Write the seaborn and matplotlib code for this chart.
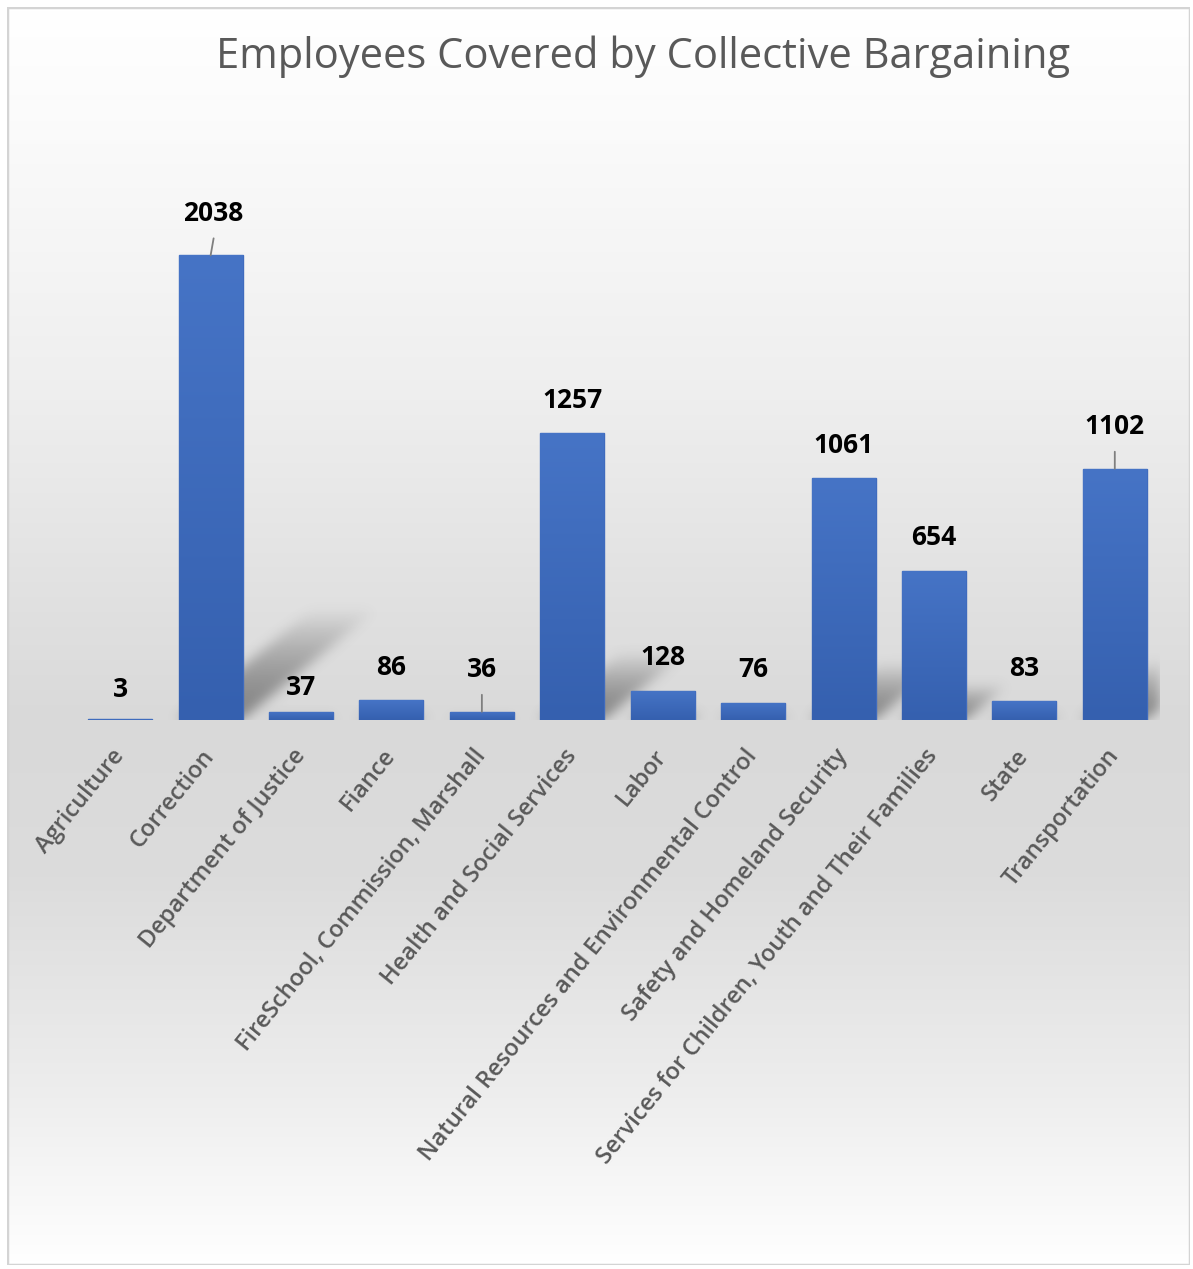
import numpy as np
import pandas as pd
import matplotlib
matplotlib.use("Agg")
import matplotlib.pyplot as plt
from matplotlib import font_manager
from matplotlib.colors import LinearSegmentedColormap
from matplotlib.patches import Rectangle
import seaborn as sns

# ---- data -------------------------------------------------------------
departments = [
    "Agriculture",
    "Correction",
    "Department of Justice",
    "Fiance",
    "FireSchool, Commission, Marshall",
    "Health and Social Services",
    "Labor",
    "Natural Resources and Environmental Control",
    "Safety and Homeland Security",
    "Services for Children, Youth and Their Families",
    "State",
    "Transportation",
]
employees = [3, 2038, 37, 86, 36, 1257, 128, 76, 1061, 654, 83, 1102]
# labels pulled away from their bars and joined with a leader line
leader_labels = ["Correction", "FireSchool, Commission, Marshall", "Transportation"]
chart_title = "Employees Covered by Collective Bargaining"

# ---- fonts ------------------------------------------------------------
sns.set_theme(style="white")
installed = {f.name for f in font_manager.fontManager.ttflist}
body_font = ["Open Sans", "DejaVu Sans"]
if "Liberation Sans Narrow" in installed:
    title_font, title_size = ["Liberation Sans Narrow", "DejaVu Sans"], 36
else:
    title_font, title_size = ["Open Sans", "DejaVu Sans"], 30
plt.rcParams["font.family"] = body_font

W, H = 1193, 1269
fig = plt.figure(figsize=(W / 100, H / 100), dpi=100)
fig.patch.set_facecolor("white")

# ---- chart area background: soft vertical grey gradient + frame ------
frame_top, frame_bot = 7, 1265
bg = fig.add_axes([7 / W, 1 - frame_bot / H, (1190 - 7) / W, (frame_bot - frame_top) / H])
bg.set_zorder(0)
stops_px = [7, 120, 400, 720, 880, 1100, 1265]
stops_col = ["#ffffff", "#fbfbfb", "#eeeeee", "#d9d9d9", "#dcdcdc", "#eeeeee", "#ffffff"]
bg_cmap = LinearSegmentedColormap.from_list(
    "bg", [((p - frame_top) / (frame_bot - frame_top), c) for p, c in zip(stops_px, stops_col)]
)
bg.imshow(np.linspace(0, 1, 512).reshape(-1, 1), cmap=bg_cmap, aspect="auto",
          extent=[0, 1, 0, 1], origin="upper")
bg.add_patch(Rectangle((0, 0), 1, 1, transform=bg.transAxes, fill=False,
                       edgecolor="#d4d4d4", lw=2.5))
bg.set_axis_off()

# ---- plot area --------------------------------------------------------
ax_px_w, ax_px_h = 1085, 570
ymax = 2500
ax = fig.add_axes([75 / W, 1 - 720 / H, ax_px_w / W, ax_px_h / H])
ax.set_zorder(1)
ax.patch.set_alpha(0)

df = pd.DataFrame({"department": departments, "employees": employees})
bar_width = 0.707
sns.barplot(data=df, x="department", y="employees", color="#4472C4",
            saturation=1, width=bar_width, edgecolor="#3F6BBE", linewidth=1.0, ax=ax)

# perspective drop shadows cast up and to the right of each bar
n = len(departments)
unit_px = ax_px_w / n
shadow = np.zeros((ax_px_h, ax_px_w))
for p in ax.patches:
    left = (p.get_x() + 0.5) * unit_px
    right = left + p.get_width() * unit_px
    hpx = p.get_height() * ax_px_h / ymax
    sh = 0.24 * hpx
    for r in range(int(sh)):
        off = 1.22 * r
        a = 0.6 * (1 - (r / sh) ** 1.6)
        c0, c1 = int(max(left + off, 0)), int(min(right + off, ax_px_w))
        if c1 > c0:
            shadow[r, c0:c1] = np.maximum(shadow[r, c0:c1], a)


def smooth(arr, sigma):
    k = np.arange(-3 * sigma, 3 * sigma + 1)
    kern = np.exp(-0.5 * (k / sigma) ** 2)
    kern /= kern.sum()
    arr = np.apply_along_axis(lambda v: np.convolve(v, kern, mode="same"), 0, arr)
    return np.apply_along_axis(lambda v: np.convolve(v, kern, mode="same"), 1, arr)


shadow = smooth(shadow, 6)
rgba = np.zeros((ax_px_h, ax_px_w, 4))
rgba[..., :3] = 0.3
rgba[..., 3] = shadow
ax.imshow(rgba, origin="lower", aspect="auto", extent=[-0.5, n - 0.5, 0, ymax],
          zorder=0.5, interpolation="bilinear")

# vertical gradient fill on each bar
bar_cmap = LinearSegmentedColormap.from_list("bar", ["#3560AF", "#4674C6"])
grad = np.linspace(0, 1, 256).reshape(-1, 1)
for p in ax.patches:
    x0, w, h = p.get_x(), p.get_width(), p.get_height()
    im = ax.imshow(grad, cmap=bar_cmap, aspect="auto", origin="lower",
                   extent=[x0, x0 + w, 0, max(h, 1e-6)], zorder=p.get_zorder() + 0.1)
    im.set_clip_path(p)

ax.set_xlim(-0.5, n - 0.5)
ax.set_ylim(0, ymax)

# ---- value labels -----------------------------------------------------
label_offset = {"Department of Justice": 24, "Agriculture": 30}
for i, (name, val) in enumerate(zip(departments, employees)):
    if name in leader_labels:
        dx = 3 if name == "Correction" else 0
        ax.annotate("", xy=(i, val), xytext=(dx, 17), textcoords="offset pixels",
                    arrowprops=dict(arrowstyle="-", color="#7f7f7f", lw=1.3,
                                    shrinkA=0, shrinkB=0), zorder=4)
        ax.annotate(str(val), xy=(i, val), xytext=(dx, 42), textcoords="offset pixels",
                    ha="center", va="center", fontsize=19, fontweight="bold",
                    color="black", zorder=4)
    else:
        ax.annotate(str(val), xy=(i, val), xytext=(0, label_offset.get(name, 33)),
                    textcoords="offset pixels", ha="center", va="center",
                    fontsize=19, fontweight="bold", color="black", zorder=4)

# ---- axes cosmetics ---------------------------------------------------
ax.set_xticks(range(n))
ax.set_xticklabels(departments, rotation=51, ha="right", va="center",
                   rotation_mode="anchor", fontsize=17, fontweight="semibold",
                   color="#595959")
ax.tick_params(axis="x", length=0, pad=23)
ax.set_yticks([])
ax.set_xlabel("")
ax.set_ylabel("")
sns.despine(ax=ax, left=True, bottom=True)

fig.text(643 / W, 1 - 57 / H, chart_title, ha="center", va="center",
         fontsize=title_size, color="#595959", family=title_font, zorder=3)

fig.savefig("out.png", dpi=100)
